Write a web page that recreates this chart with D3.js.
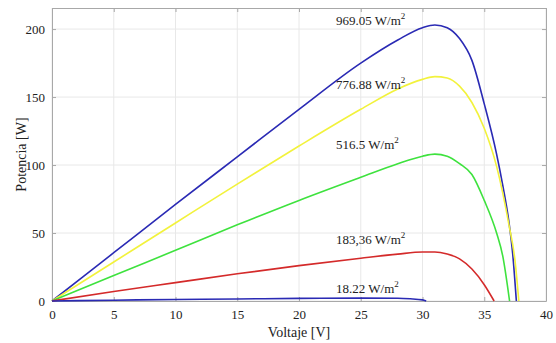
<!DOCTYPE html>
<html>
<head>
<script src="https://cdn.jsdelivr.net/npm/d3@7"></script>
<style>
  body { margin: 0; background: #fff; }
  text { font-family: "Liberation Serif", "Times New Roman", serif; fill: #222; }
</style>
</head>
<body>
<div id="viz"></div>
<script>
// curves
var v969 = [0, 5, 10, 15, 20, 25, 28, 30, 31, 32, 33, 34, 35, 36, 36.5, 37, 37.3, 37.6];
var p969 = [0, 35.5, 71, 106, 141, 175, 192, 201, 203, 201, 193, 177, 145, 108, 85, 58, 35, 0];

var v776 = [0, 5, 10, 15, 20, 25, 28, 30, 31, 32, 33, 34, 35, 36, 37, 37.5, 37.8];
var p776 = [0, 28.7, 57.4, 86, 114, 141, 156, 163, 165, 164, 158, 146, 127, 99, 56, 29, 0];

var v516 = [0, 5, 10, 15, 20, 25, 28, 30, 31, 32, 33, 34, 35, 36, 36.5, 37.05];
var p516 = [0, 18.7, 37.3, 56, 74, 91, 101, 106.5, 108, 106.5, 101, 93, 74, 50, 33, 0];

var v183 = [0, 5, 10, 15, 20, 25, 28, 30, 31, 32, 33, 34, 35, 35.8];
var p183 = [0, 7, 13.5, 20, 26, 31.5, 34.5, 36, 36, 34.5, 31, 23.5, 12, 0];

var v18 = [0, 5, 10, 15, 20, 25, 28, 29, 30, 30.3];
var p18 = [0, 0.6, 1.1, 1.5, 1.9, 2.1, 2, 1.6, 0.8, 0];

var xTicks = [0, 5, 10, 15, 20, 25, 30, 35, 40];
var yTicks = [0, 50, 100, 150, 200];

var series = [
  { v: v969, p: p969, color: "#2a2ab4", label: "969.05 W/m", ly: 203 },
  { v: v776, p: p776, color: "#f2f23c", label: "776.88 W/m", ly: 156 },
  { v: v516, p: p516, color: "#3ee23e", label: "516.5 W/m", ly: 112 },
  { v: v183, p: p183, color: "#d42a2a", label: "183,36 W/m", ly: 42 },
  { v: v18, p: p18, color: "#2a2ab4", label: "18.22 W/m", ly: 6 }
];

var W = 556, H = 343;
var m = { left: 52, right: 10, top: 8, bottom: 42 };

var svg = d3.select("#viz").append("svg")
  .attr("width", W).attr("height", H);

var x = d3.scaleLinear().domain([0, 40]).range([m.left, W - m.right]);
var y = d3.scaleLinear().domain([0, 215.5]).range([H - m.bottom, m.top]);

// grid
svg.append("g").selectAll("line").data(xTicks).enter().append("line")
  .attr("x1", d => x(d)).attr("x2", d => x(d))
  .attr("y1", y(0)).attr("y2", m.top)
  .style("stroke", "#e8e8e8");
svg.append("g").selectAll("line").data(yTicks).enter().append("line")
  .attr("x1", x(0)).attr("x2", x(40))
  .attr("y1", d => y(d)).attr("y2", d => y(d))
  .style("stroke", "#e8e8e8");

// axes (ticks inside, like matlab)
var xAxis = svg.append("g").attr("transform", "translate(0," + y(0) + ")")
  .call(d3.axisBottom(x).tickValues(xTicks).tickSizeInner(-4).tickSizeOuter(0).tickPadding(9));
var yAxis = svg.append("g").attr("transform", "translate(" + x(0) + ",0)")
  .call(d3.axisLeft(y).tickValues(yTicks).tickSizeInner(-4).tickSizeOuter(0).tickPadding(7));
svg.append("g").attr("transform", "translate(0," + m.top + ")")
  .call(d3.axisTop(x).tickValues(xTicks).tickSizeInner(-4).tickSizeOuter(0).tickFormat(""));
svg.append("g").attr("transform", "translate(" + x(40) + ",0)")
  .call(d3.axisRight(y).tickValues(yTicks).tickSizeInner(-4).tickSizeOuter(0).tickFormat(""));

svg.selectAll(".domain").style("stroke", "#a8a8a8");
svg.selectAll(".tick line").style("stroke", "#a8a8a8");
svg.selectAll(".tick text").style("font-size", "13px")
  .style("font-family", "Liberation Serif").style("fill", "#222");

var line = d3.line().x(d => x(d[0])).y(d => y(d[1])).curve(d3.curveMonotoneX);

series.forEach(function (s) {
  var pts = s.v.map((vv, i) => [vv, s.p[i]]);
  svg.append("path").datum(pts)
    .attr("d", line)
    .style("fill", "none")
    .style("stroke", s.color)
    .style("stroke-width", 1.6);

  var t = svg.append("text")
    .attr("x", 336).attr("y", y(s.ly))
    .style("font-size", "13px");
  t.append("tspan").text(s.label);
  t.append("tspan").attr("dy", -6).style("font-size", "9px").text("2");
});

svg.append("text")
  .attr("x", (x(0) + x(40)) / 2).attr("y", 337)
  .attr("text-anchor", "middle")
  .style("font-size", "14px")
  .text("Voltaje [V]");

svg.append("text")
  .attr("transform", "translate(26," + ((y(0) + m.top) / 2) + ") rotate(-90)")
  .attr("text-anchor", "middle")
  .style("font-size", "14px")
  .text("Potencia [W]");
</script>
</body>
</html>
